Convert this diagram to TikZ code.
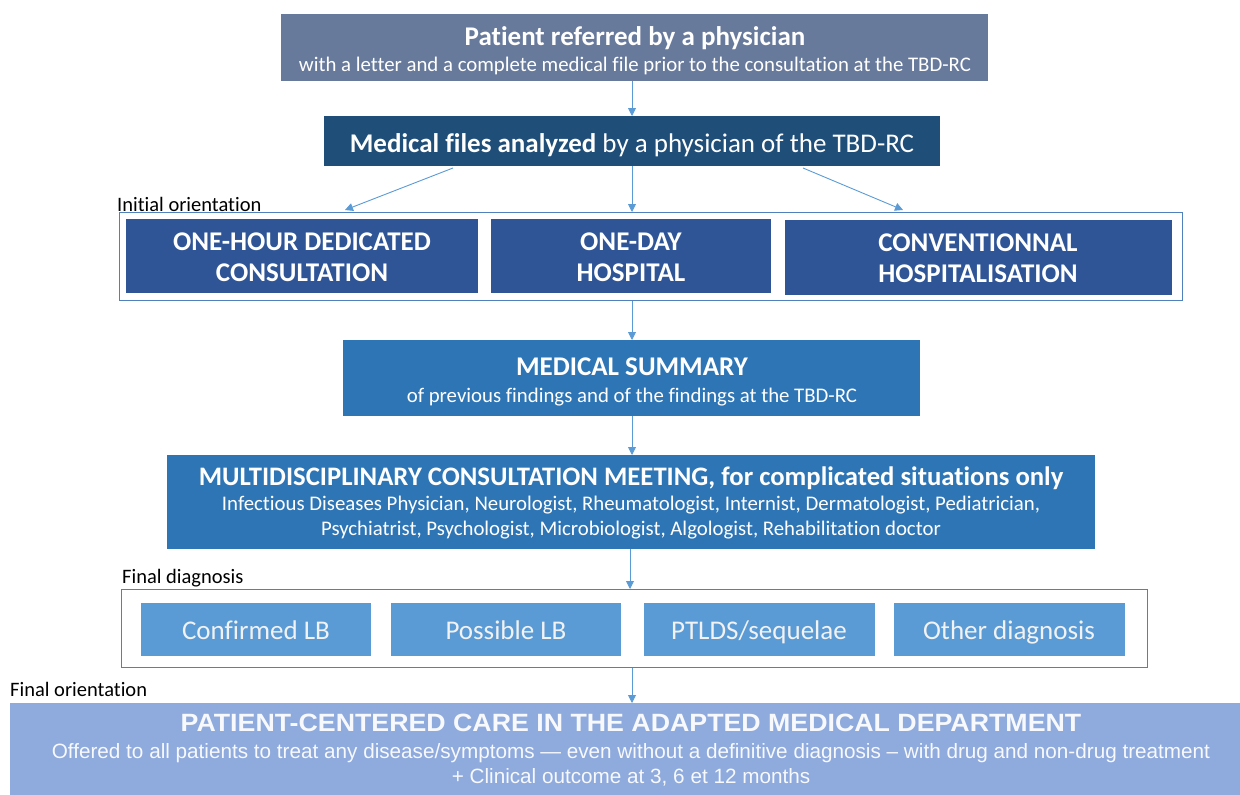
\documentclass[tikz,border=0pt]{standalone}
\usepackage{fontspec}
\setmainfont[Ligatures={TeX,NoCommon}]{Carlito}
\newfontfamily\arialfont{Liberation Sans}
\newfontfamily\arialwide[FakeStretch=1.07]{Liberation Sans}
\usetikzlibrary{arrows.meta}
\definecolor{cTop}{HTML}{687A9C}
\definecolor{cNavy}{HTML}{1F4E79}
\definecolor{cInit}{HTML}{2F5597}
\definecolor{cMid}{HTML}{2E75B6}
\definecolor{cDiag}{HTML}{5B9BD5}
\definecolor{cBot}{HTML}{8FAADC}
\definecolor{cArrow}{HTML}{5B9BD5}
\definecolor{cFrame}{HTML}{4F81BD}
\definecolor{cDiagText}{HTML}{F2F2F2}
\begin{document}
\begin{tikzpicture}[x=1pt,y=-1pt,
  box/.style={fill=#1, draw=none, inner sep=0pt, anchor=north west},
  frame/.style={draw=cFrame, line width=1.2pt, fill=none, inner sep=0pt, anchor=north west},
  txt/.style={text=white, inner sep=0pt, anchor=base},
  lbl/.style={text=black, inner sep=0pt, anchor=base west, font=\fontsize{20.5}{24}\selectfont},
  conn/.style={draw=cArrow, line width=0.9pt, -{Triangle[length=8pt,width=8pt]}},
  big/.style={font=\fontsize{27}{31}\selectfont\bfseries},
  caps/.style={font=\fontsize{27}{31}\selectfont\bfseries},
  sub/.style={font=\fontsize{20.8}{24}\selectfont},
  diag/.style={txt, text=cDiagText, font=\fontsize{27}{31}\selectfont},
  botbig/.style={txt, text=white!93!cBot, font=\arialwide\bfseries\fontsize{25}{29}\selectfont},
  botsub/.style={txt, text=white!93!cBot, font=\arialfont\fontsize{20.7}{24}\selectfont}
]
\useasboundingbox (0,0) rectangle (1240,795);

% Box 1
\node[box=cTop, minimum width=707pt, minimum height=67pt] (top) at (281,14) {};
\node[txt, big] (topA) at (635,45) {Patient referred by a physician};
\node[txt, sub] (topB) at (635,71) {with a letter and a complete medical file prior to the consultation at the TBD-RC};

% Box 2
\node[box=cNavy, minimum width=616pt, minimum height=50pt] (files) at (324,116) {};
\node[txt, font=\fontsize{27}{31}\selectfont] (filesT) at (632,152) {\textbf{Medical files analyzed} by a physician of the TBD-RC};

% Initial orientation
\node[lbl] (lblInit) at (117,211) {Initial orientation};
\node[frame, minimum width=1063pt, minimum height=88pt] (frameInit) at (119,212) {};
\node[box=cInit, minimum width=352pt, minimum height=74pt] (oneh) at (126,219) {};
\node[box=cInit, minimum width=280pt, minimum height=74pt] (oned) at (491,219) {};
\node[box=cInit, minimum width=387pt, minimum height=75pt] (conv) at (785,220) {};
\node[txt, caps] (onehA) at (302,250) {ONE-HOUR DEDICATED};
\node[txt, caps] (onehB) at (302,281) {CONSULTATION};
\node[txt, caps] (onedA) at (631,250) {ONE-DAY};
\node[txt, caps] (onedB) at (631,281) {HOSPITAL};
\node[txt, caps] (convA) at (978,251) {CONVENTIONNAL};
\node[txt, caps] (convB) at (978,282) {HOSPITALISATION};

% Medical summary
\node[box=cMid, minimum width=577pt, minimum height=76pt] (summ) at (343,340) {};
\node[txt, caps] (summA) at (632,375) {MEDICAL SUMMARY};
\node[txt, sub] (summB) at (632,402) {of previous findings and of the findings at the TBD-RC};

% MCM
\node[box=cMid, minimum width=928pt, minimum height=94pt] (mcm) at (167,455) {};
\node[txt, font=\fontsize{26.7}{31}\selectfont\bfseries] (mcmA) at (631,485) {MULTIDISCIPLINARY CONSULTATION MEETING, for complicated situations only};
\node[txt, sub] (mcmB) at (631,510) {Infectious Diseases Physician, Neurologist, Rheumatologist, Internist, Dermatologist, Pediatrician,};
\node[txt, sub] (mcmC) at (631,535) {Psychiatrist, Psychologist, Microbiologist, Algologist, Rehabilitation doctor};

% Final diagnosis
\node[lbl] (lblDiag) at (122,583) {Final diagnosis};
\node[frame, minimum width=1026pt, minimum height=78pt] (frameDiag) at (121,589) {};
\node[box=cDiag, minimum width=230pt, minimum height=53pt] (d1) at (141,603) {};
\node[box=cDiag, minimum width=230pt, minimum height=53pt] (d2) at (391,603) {};
\node[box=cDiag, minimum width=231pt, minimum height=53pt] (d3) at (644,603) {};
\node[box=cDiag, minimum width=231pt, minimum height=53pt] (d4) at (894,603) {};
\node[diag] (d1T) at (256,639) {Confirmed LB};
\node[diag] (d2T) at (506,639) {Possible LB};
\node[diag] (d3T) at (759,639) {PTLDS/sequelae};
\node[diag] (d4T) at (1009,639) {Other diagnosis};

% Final orientation
\node[lbl] (lblOrient) at (10,696) {Final orientation};
\node[box=cBot, minimum width=1230pt, minimum height=92pt] (care) at (10,703) {};
\node[botbig] (careA) at (631,731) {PATIENT-CENTERED CARE IN THE ADAPTED MEDICAL DEPARTMENT};
\node[botsub] (careB) at (631,758.5) {Offered to all patients to treat any disease/symptoms — even without a definitive diagnosis – with drug and non-drug treatment};
\node[botsub] (careC) at (631,783.5) {+ Clinical outcome at 3, 6 et 12 months};

% Connectors
\coordinate (fA) at (453,168);
\coordinate (fC) at (803,168);
\coordinate (tA) at (345,210);
\coordinate (tC) at (903,210);
\draw[conn] (top.south -| 632,0) -- (files.north -| 632,0);
\draw[conn] (fA) -- (tA);
\draw[conn] (files.south -| 632,0) -- (frameInit.north -| 632,0);
\draw[conn] (fC) -- (tC);
\draw[conn] (frameInit.south -| 632,0) -- (summ.north -| 632,0);
\draw[conn] (summ.south -| 632,0) -- (mcm.north -| 632,0);
\draw[conn] (mcm.south -| 630,0) -- (frameDiag.north -| 630,0);
\draw[conn] (frameDiag.south -| 632,0) -- (care.north -| 632,0);
\end{tikzpicture}
\end{document}
